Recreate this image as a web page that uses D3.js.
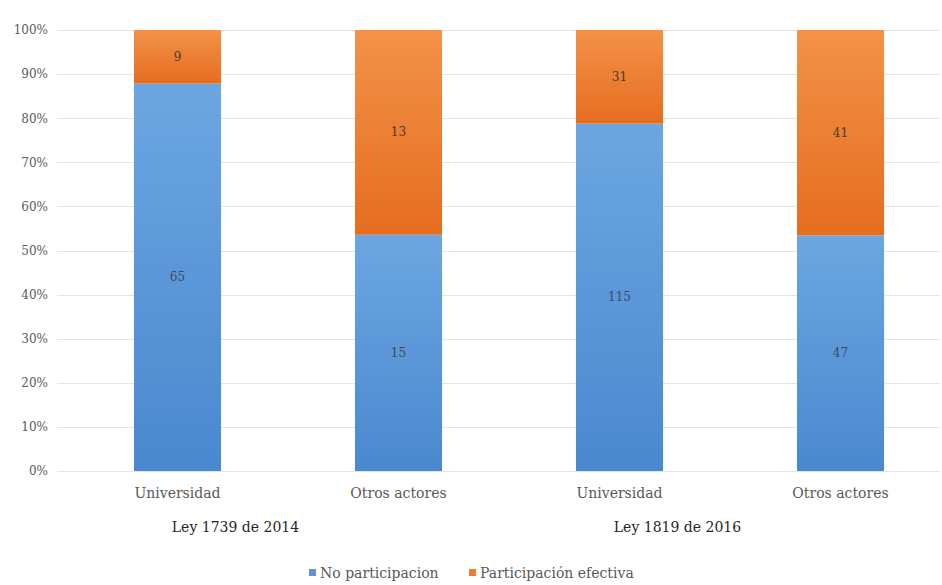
<!DOCTYPE html>
<html>
<head>
<meta charset="utf-8">
<script src="https://cdn.jsdelivr.net/npm/d3@7"></script>
<style>
  body { margin: 0; background: #fff; }
  svg text { font-family: "DejaVu Serif", serif !important; fill: #595959; }
</style>
</head>
<body>
<svg width="942" height="585"></svg>
<script>
// data
var categories = ["Universidad", "Otros actores", "Universidad", "Otros actores"];
var groups = ["Ley 1739 de 2014", "Ley 1819 de 2016"];
var noParticipacion = [65, 15, 115, 47];
var participacion = [9, 13, 31, 41];
var seriesNames = ["No participacion", "Participación efectiva"];
var yTicks = [0, 0.1, 0.2, 0.3, 0.4, 0.5, 0.6, 0.7, 0.8, 0.9, 1];

var svg = d3.select("svg"),
    margin = {top: 30, right: 2, bottom: 114, left: 57},
    height = 585 - margin.top - margin.bottom;

var x = d3.scaleBand()
    .domain(d3.range(categories.length))
    .range([67, 951])
    .paddingInner(0.606)
    .paddingOuter(0.303);

var y = d3.scaleLinear().domain([0, 1]).range([margin.top + height, margin.top]);

// gradients like the excel fill
var defs = svg.append("defs");
function grad(id, c1, c2) {
  var lg = defs.append("linearGradient").attr("id", id)
    .attr("x1", 0).attr("y1", 0).attr("x2", 0).attr("y2", 1);
  lg.append("stop").attr("offset", "0%").attr("stop-color", c1);
  lg.append("stop").attr("offset", "100%").attr("stop-color", c2);
}
grad("gBlue", "#6ca6e2", "#4a88cf");
grad("gOrange", "#f39248", "#e56d1f");

// grid
svg.append("g").selectAll("line")
  .data(yTicks).enter().append("line")
  .attr("x1", margin.left).attr("x2", 940)
  .attr("y1", function(d) { return Math.round(y(d)) + 0.5; })
  .attr("y2", function(d) { return Math.round(y(d)) + 0.5; })
  .attr("stroke", "#e4e4e4");

var yAxis = d3.axisLeft(y).tickValues(yTicks).tickSize(0).tickPadding(5)
  .tickFormat(d3.format(".0%"));
svg.append("g")
  .attr("transform", "translate(" + (margin.left - 4) + ",0)")
  .call(yAxis)
  .call(function(g) { g.select(".domain").remove(); })
  .selectAll("text")
  .style("font-size", "12px")
  .attr("fill", "#595959");

var data = categories.map(function(c, i) {
  var tot = noParticipacion[i] + participacion[i];
  return {i: i, a: noParticipacion[i], b: participacion[i], pa: noParticipacion[i] / tot};
});

var bars = svg.append("g").selectAll("g").data(data).enter().append("g");

bars.append("rect")
  .attr("x", function(d) { return x(d.i); })
  .attr("width", x.bandwidth())
  .attr("y", function(d) { return y(d.pa); })
  .attr("height", function(d) { return y(0) - y(d.pa); })
  .attr("fill", "url(#gBlue)");

bars.append("rect")
  .attr("x", function(d) { return x(d.i); })
  .attr("width", x.bandwidth())
  .attr("y", y(1))
  .attr("height", function(d) { return y(d.pa) - y(1); })
  .attr("fill", "url(#gOrange)");

bars.append("text")
  .attr("x", function(d) { return x(d.i) + x.bandwidth() / 2; })
  .attr("y", function(d) { return y(d.pa / 2) + 4; })
  .attr("text-anchor", "middle")
  .style("font-size", "12px")
  .style("fill", "#3f4a5a")
  .text(function(d) { return d.a; });

bars.append("text")
  .attr("x", function(d) { return x(d.i) + x.bandwidth() / 2; })
  .attr("y", function(d) { return y((1 + d.pa) / 2) + 4; })
  .attr("text-anchor", "middle")
  .style("font-size", "12px")
  .style("fill", "#4a3a2a")
  .text(function(d) { return d.b; });

// category labels
svg.append("g").selectAll("text")
  .data(categories).enter().append("text")
  .attr("x", function(d, i) { return x(i) + x.bandwidth() / 2; })
  .attr("y", 498)
  .attr("text-anchor", "middle")
  .style("font-size", "14px")
  .text(function(d) { return d; });

// group labels
svg.append("g").selectAll("text")
  .data(groups).enter().append("text")
  .attr("x", function(d, i) { return x(i * 2) + x.bandwidth() / 2 + 58; })
  .attr("y", 532)
  .attr("text-anchor", "middle")
  .style("font-size", "14px")
  .style("fill", "#262626")
  .text(function(d) { return d; });

// legend
var legendX = [309, 469];
var legendColors = ["#5b95d4", "#ed7d31"];
var lg = svg.append("g").selectAll("g")
  .data(seriesNames).enter().append("g")
  .attr("transform", function(d, i) { return "translate(" + legendX[i] + ",578)"; });
lg.append("rect").attr("x", 0).attr("y", -9).attr("width", 7).attr("height", 7)
  .attr("fill", function(d, i) { return legendColors[i]; });
lg.append("text").attr("x", 11).attr("y", 0)
  .style("font-size", "14px")
  .text(function(d) { return d; });
</script>
</body>
</html>
